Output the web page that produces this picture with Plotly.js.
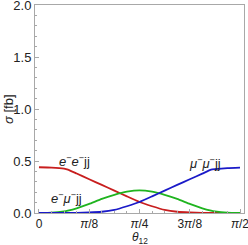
<!DOCTYPE html>
<html><head><meta charset="utf-8">
<script src="https://cdn.plot.ly/plotly-3.0.1.min.js"></script>
<style>html,body{margin:0;padding:0;background:#fff;}#plot{width:248px;height:245px;}</style>
</head><body><div id="plot"></div>
<script>
// theta_12 in radians
const theta = [0, 0.0982, 0.1963, 0.2258, 0.2945, 0.3927, 0.4909, 0.5890, 0.6872, 0.7854,
               0.8836, 0.9817, 1.0799, 1.1781, 1.2763, 1.3450, 1.3744, 1.4726, 1.5708];
const sigmaEE = [0.440, 0.437, 0.427, 0.418, 0.380, 0.325, 0.270, 0.215, 0.160, 0.106,
                 0.065, 0.030, 0.012, 0.005, 0.002, 0.001, 0.001, 0.000, 0.000];
const sigmaEMu = [0.000, 0.003, 0.015, 0.022, 0.045, 0.088, 0.135, 0.175, 0.205, 0.218,
                  0.205, 0.175, 0.135, 0.088, 0.045, 0.022, 0.015, 0.003, 0.000];
const sigmaMuMu = [0.000, 0.000, 0.001, 0.001, 0.002, 0.005, 0.012, 0.030, 0.065, 0.106,
                   0.160, 0.215, 0.270, 0.324, 0.378, 0.417, 0.422, 0.432, 0.437];
const xTickVals = [0, Math.PI/8, Math.PI/4, 3*Math.PI/8, Math.PI/2];
const xTickText = ['0', '<i>π</i>/8', '<i>π</i>/4', '3<i>π</i>/8', '<i>π</i>/2'];
const yTickVals = [0, 0.5, 1.0, 1.5, 2.0];
const yTickText = ['0.0', '0.5', '1.0', '1.5', '2.0'];

const colors = ['#c81e1e', '#1fb41f', '#1a1ac8'];
const ys = [sigmaEE, sigmaEMu, sigmaMuMu];
const traces = ys.map((y, i) => ({
  x: theta, y: y, type: 'scatter', mode: 'lines',
  line: {color: colors[i], width: 1.8, shape: 'spline', smoothing: 0.4},
  hoverinfo: 'skip', showlegend: false, cliponaxis: false
}));

const frame = '#a8a8a8';
const font = {family: 'Liberation Sans, Arial, sans-serif', size: 13, color: '#222'};
const xfont = {family: 'Liberation Sans, Arial, sans-serif', size: 12, color: '#222'};
const layout = {
  width: 248, height: 245,
  margin: {l: 35, r: 4, t: 5, b: 32},
  paper_bgcolor: '#fff', plot_bgcolor: '#fff',
  font: font,
  showlegend: false,
  xaxis: {
    range: [-0.031, 1.602], showgrid: false, zeroline: false,
    showline: true, mirror: true, linecolor: frame, linewidth: 1,
    tickmode: 'array', tickvals: xTickVals, ticktext: xTickText,
    ticks: 'inside', ticklen: 4, tickcolor: frame, tickfont: xfont,
    ticklabeloverflow: 'allow',
    minor: {tick0: 0, dtick: Math.PI/32, ticks: 'inside', ticklen: 2, tickcolor: frame}
  },
  yaxis: {
    range: [0, 2], showgrid: false, zeroline: false,
    showline: true, mirror: true, linecolor: frame, linewidth: 1,
    tickmode: 'array', tickvals: yTickVals, ticktext: yTickText,
    ticks: 'inside', ticklen: 4, tickcolor: frame, tickfont: font,
    ticklabeloverflow: 'allow',
    minor: {tick0: 0, dtick: 0.1, ticks: 'inside', ticklen: 2, tickcolor: frame}
  },
  annotations: [
    {x: 0.28, y: 0.50, text: '<i>e</i><sup>−</sup><i>e</i><sup>−</sup>jj', showarrow: false, font: font},
    {x: 0.215, y: 0.14, text: '<i>e</i><sup>−</sup><i>μ</i><sup>−</sup>jj', showarrow: false, font: font},
    {x: 1.30, y: 0.48, text: '<i>μ</i><sup>−</sup><i>μ</i><sup>−</sup>jj', showarrow: false, font: font},
    {xref: 'paper', yref: 'paper', x: 0.5, y: 0, yshift: -25, yanchor: 'middle',
     text: '<i>θ</i><sub>12</sub>', showarrow: false, font: xfont},
    {xref: 'paper', yref: 'paper', x: 0, y: 0.5, xshift: -27, xanchor: 'center', textangle: -90,
     text: '<i>σ</i> [fb]', showarrow: false, font: font}
  ]
};
Plotly.newPlot('plot', traces, layout, {displayModeBar: false, staticPlot: true});
</script></body></html>
